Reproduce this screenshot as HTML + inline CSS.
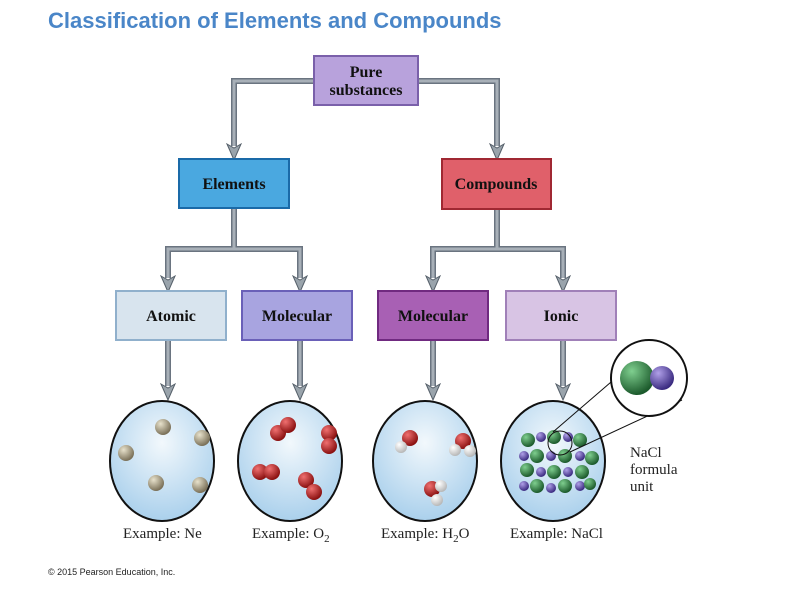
<!DOCTYPE html>
<html><head><meta charset="utf-8"><style>
body{margin:0;background:#fff;width:800px;height:600px;overflow:hidden}
</style></head><body>
<svg width="800" height="600" xmlns="http://www.w3.org/2000/svg" font-family="Liberation Serif, serif">
<defs>
<radialGradient id="bg" cx="50%" cy="35%" r="65%"><stop offset="0" stop-color="#f2f8fc"/><stop offset="1" stop-color="#aad0ec"/></radialGradient>
<radialGradient id="ne" cx="35%" cy="30%" r="70%"><stop offset="0" stop-color="#e8e2cc"/><stop offset="1" stop-color="#7a7058"/></radialGradient>
<radialGradient id="ox" cx="35%" cy="30%" r="70%"><stop offset="0" stop-color="#f07070"/><stop offset="1" stop-color="#8a1010"/></radialGradient>
<radialGradient id="wh" cx="35%" cy="30%" r="70%"><stop offset="0" stop-color="#ffffff"/><stop offset="1" stop-color="#b8b8b8"/></radialGradient>
<radialGradient id="cl" cx="35%" cy="30%" r="70%"><stop offset="0" stop-color="#7fcf8f"/><stop offset="1" stop-color="#1c5a2c"/></radialGradient>
<radialGradient id="na" cx="35%" cy="30%" r="70%"><stop offset="0" stop-color="#b0a0e8"/><stop offset="1" stop-color="#3a2a80"/></radialGradient>
</defs>
<text x="48" y="28" font-family="Liberation Sans, sans-serif" font-weight="bold" font-size="22" fill="#4a86c8">Classification of Elements and Compounds</text>
<g fill="none" stroke="#6a7480" stroke-width="6">
<path d="M314 81 H234 V146 M418 81 H497 V146 M234 208 V249 H168 V278 M234 249 H300 V278 M497 209 V249 H433 V278 M497 249 H563 V278 M168 340 V386 M300 340 V386 M433 340 V386 M563 340 V386"/>
</g>
<g fill="none" stroke="#a8b0b8" stroke-width="3">
<path d="M314 81 H234 V146 M418 81 H497 V146 M234 208 V249 H168 V278 M234 249 H300 V278 M497 209 V249 H433 V278 M497 249 H563 V278 M168 340 V386 M300 340 V386 M433 340 V386 M563 340 V386"/>
</g>
<g stroke="#56606a" fill="#9aa4ac" stroke-width="1">
<path d="M227 144 L234 160 L241 144 L234 148Z"/><path d="M490 144 L497 160 L504 144 L497 148Z"/>
<path d="M161 276 L168 292 L175 276 L168 280Z"/><path d="M293 276 L300 292 L307 276 L300 280Z"/>
<path d="M426 276 L433 292 L440 276 L433 280Z"/><path d="M556 276 L563 292 L570 276 L563 280Z"/>
<path d="M161 384 L168 400 L175 384 L168 388Z"/><path d="M293 384 L300 400 L307 384 L300 388Z"/>
<path d="M426 384 L433 400 L440 384 L433 388Z"/><path d="M556 384 L563 400 L570 384 L563 388Z"/>
</g>
<g font-weight="bold" font-size="16" text-anchor="middle" fill="#111">
<rect x="314" y="56" width="104" height="49" fill="#b8a2dc" stroke="#7a60aa" stroke-width="2"/>
<text x="366" y="77">Pure</text><text x="366" y="95">substances</text>
<rect x="179" y="159" width="110" height="49" fill="#4aa8e0" stroke="#1a6aa8" stroke-width="2"/>
<text x="234" y="189">Elements</text>
<rect x="442" y="159" width="109" height="50" fill="#e0606a" stroke="#a02832" stroke-width="2"/>
<text x="496" y="189">Compounds</text>
<rect x="116" y="291" width="110" height="49" fill="#d8e4ee" stroke="#90b0cc" stroke-width="2"/>
<text x="171" y="321">Atomic</text>
<rect x="242" y="291" width="110" height="49" fill="#a8a4e0" stroke="#6a60b8" stroke-width="2"/>
<text x="297" y="321">Molecular</text>
<rect x="378" y="291" width="110" height="49" fill="#a860b4" stroke="#702a80" stroke-width="2"/>
<text x="433" y="321">Molecular</text>
<rect x="506" y="291" width="110" height="49" fill="#d8c4e4" stroke="#a080b8" stroke-width="2"/>
<text x="561" y="321">Ionic</text>
</g>
<g stroke="#111" stroke-width="2" fill="url(#bg)">
<ellipse cx="162" cy="461" rx="52" ry="60"/>
<ellipse cx="290" cy="461" rx="52" ry="60"/>
<ellipse cx="425" cy="461" rx="52" ry="60"/>
<ellipse cx="553" cy="461" rx="52" ry="60"/>
</g>
<g fill="url(#ne)"><circle cx="163" cy="427" r="8"/><circle cx="202" cy="438" r="8"/><circle cx="126" cy="453" r="8"/><circle cx="156" cy="483" r="8"/><circle cx="200" cy="485" r="8"/></g>
<g fill="url(#ox)"><circle cx="278" cy="433" r="8"/><circle cx="288" cy="425" r="8"/><circle cx="329" cy="433" r="8"/><circle cx="329" cy="446" r="8"/><circle cx="260" cy="472" r="8"/><circle cx="272" cy="472" r="8"/><circle cx="306" cy="480" r="8"/><circle cx="314" cy="492" r="8"/></g>
<g><circle cx="410" cy="438" r="8" fill="url(#ox)"/><circle cx="401" cy="447" r="6" fill="url(#wh)"/><circle cx="463" cy="441" r="8" fill="url(#ox)"/><circle cx="455" cy="450" r="6" fill="url(#wh)"/><circle cx="470" cy="451" r="6" fill="url(#wh)"/><circle cx="432" cy="489" r="8" fill="url(#ox)"/><circle cx="441" cy="486" r="6" fill="url(#wh)"/><circle cx="437" cy="500" r="6" fill="url(#wh)"/></g>
<g>
<circle cx="528" cy="440" r="7" fill="url(#cl)"/><circle cx="541" cy="437" r="5" fill="url(#na)"/><circle cx="554" cy="437" r="7" fill="url(#cl)"/><circle cx="568" cy="437" r="5" fill="url(#na)"/><circle cx="580" cy="440" r="7" fill="url(#cl)"/>
<circle cx="524" cy="456" r="5" fill="url(#na)"/><circle cx="537" cy="456" r="7" fill="url(#cl)"/><circle cx="551" cy="456" r="5" fill="url(#na)"/><circle cx="565" cy="456" r="7" fill="url(#cl)"/><circle cx="580" cy="456" r="5" fill="url(#na)"/><circle cx="592" cy="458" r="7" fill="url(#cl)"/>
<circle cx="527" cy="470" r="7" fill="url(#cl)"/><circle cx="541" cy="472" r="5" fill="url(#na)"/><circle cx="554" cy="472" r="7" fill="url(#cl)"/><circle cx="568" cy="472" r="5" fill="url(#na)"/><circle cx="582" cy="472" r="7" fill="url(#cl)"/>
<circle cx="524" cy="486" r="5" fill="url(#na)"/><circle cx="537" cy="486" r="7" fill="url(#cl)"/><circle cx="551" cy="488" r="5" fill="url(#na)"/><circle cx="565" cy="486" r="7" fill="url(#cl)"/><circle cx="580" cy="486" r="5" fill="url(#na)"/><circle cx="590" cy="484" r="6" fill="url(#cl)"/>
</g>
<circle cx="560" cy="443" r="12" fill="none" stroke="#111" stroke-width="1"/>
<path d="M553 432 L625 370 M570 452 L682 400" stroke="#111" stroke-width="1"/>
<circle cx="649" cy="378" r="38" fill="#fff" stroke="#111" stroke-width="2"/>
<circle cx="637" cy="378" r="17" fill="url(#cl)"/><circle cx="662" cy="378" r="12" fill="url(#na)"/>
<g font-size="15" fill="#222">
<text x="630" y="457">NaCl</text><text x="630" y="474">formula</text><text x="630" y="491">unit</text>
<text x="123" y="538">Example: Ne</text>
<text x="252" y="538">Example: O<tspan font-size="11" dy="4">2</tspan></text>
<text x="381" y="538">Example: H<tspan font-size="11" dy="4">2</tspan><tspan dy="-4">O</tspan></text>
<text x="510" y="538">Example: NaCl</text>
</g>
<text x="48" y="575" font-family="Liberation Sans, sans-serif" font-size="9" fill="#222">© 2015  Pearson Education, Inc.</text>
</svg>
</body></html>
